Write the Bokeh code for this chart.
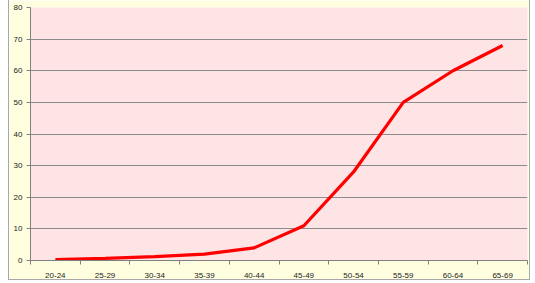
from bokeh.plotting import figure
from bokeh.models import FixedTicker, Range1d
from bokeh.embed import file_html
from bokeh.resources import INLINE

categories = ["20-24", "25-29", "30-34", "35-39", "40-44",
              "45-49", "50-54", "55-59", "60-64", "65-69"]
values = [0.3, 0.7, 1.2, 2.0, 4.0, 11.0, 28.0, 50.0, 60.0, 68.0]
y_ticks = [0, 10, 20, 30, 40, 50, 60, 70, 80]

xs = [i + 0.5 for i in range(len(categories))]

p = figure(width=522, height=280, output_backend="svg", toolbar_location=None,
           x_range=Range1d(0, len(categories)), y_range=Range1d(0, 80),
           min_border_left=21, min_border_right=4, min_border_top=7, min_border_bottom=17)
p.styles = {"margin-left": "8px", "border-left": "1px solid #A8A8A8",
            "border-right": "1px solid #A8A8A8", "border-bottom": "1px solid #A8A8A8"}

p.background_fill_color = "#FFE4E6"
p.border_fill_color = "#FFFFE0"
p.outline_line_color = None

p.line(xs, values, line_color="#FF0000", line_width=3.2)

# x axis
p.xaxis.ticker = FixedTicker(ticks=xs, minor_ticks=list(range(len(categories) + 1)))
p.xaxis.major_label_overrides = {x: c for x, c in zip(xs, categories)}
p.xaxis.major_tick_line_color = None
p.xaxis.minor_tick_line_color = "#808080"
p.xaxis.minor_tick_out = 4
p.xaxis.minor_tick_in = 0
p.xaxis.axis_line_color = "#808080"
p.xaxis.major_label_text_font = "Liberation Sans"
p.xaxis.major_label_text_font_size = "8px"
p.xaxis.major_label_text_color = "#222222"
p.xaxis.major_label_standoff = 6

# y axis
p.yaxis.ticker = FixedTicker(ticks=y_ticks, minor_ticks=[])
p.yaxis.major_tick_line_color = "#808080"
p.yaxis.major_tick_out = 4
p.yaxis.major_tick_in = 0
p.yaxis.axis_line_color = "#808080"
p.yaxis.major_label_text_font = "Liberation Sans"
p.yaxis.major_label_text_font_size = "8px"
p.yaxis.major_label_text_color = "#222222"
p.yaxis.major_label_standoff = 4

p.xgrid.grid_line_color = None
p.ygrid.grid_line_color = "#8C8C8C"
p.ygrid.grid_line_width = 1

open("out.html", "w").write(file_html(p, INLINE))
